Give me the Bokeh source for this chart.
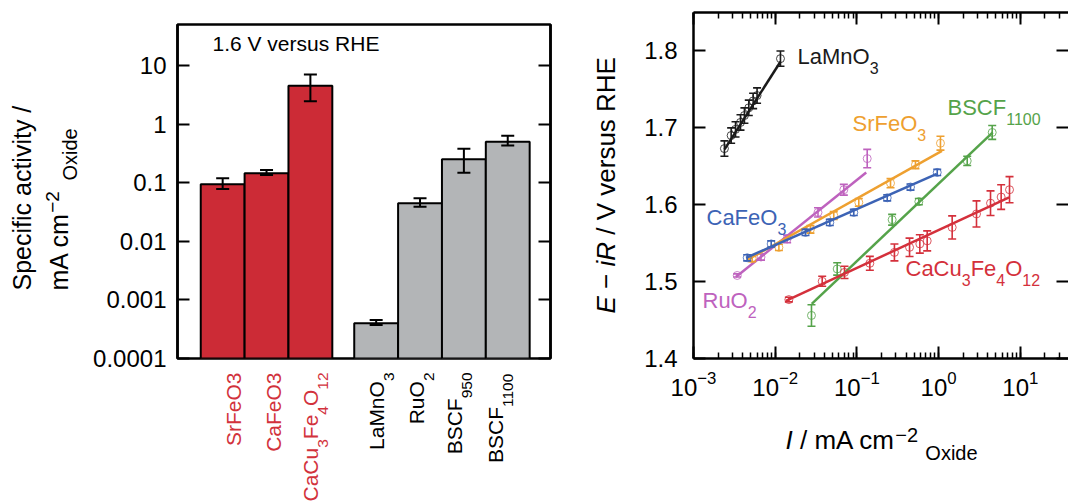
import math
import re
from bokeh.plotting import figure
from bokeh.layouts import row, column
from bokeh.models import (Range1d, FixedTicker, LogAxis, LinearAxis, Label,
                          CustomJSTickFormatter, LogTicker)
from bokeh.embed import file_html
from bokeh.resources import INLINE

# ---------------- data: left panel (specific activity at 1.6 V vs RHE) ----------------
bar_names = ["SrFeO3", "CaFeO3", "CaCu3Fe4O12", "LaMnO3", "RuO2", "BSCF950", "BSCF1100"]
bar_pos = [0, 1, 2, 3.5, 4.5, 5.5, 6.5]
bar_values = [0.094, 0.145, 4.5, 0.00040, 0.0444, 0.251, 0.50]
bar_err_hi = [0.119, 0.165, 7.0, 0.000455, 0.054, 0.38, 0.63]
bar_err_lo = [0.078, 0.135, 2.45, 0.000374, 0.039, 0.148, 0.43]
bar_is_new = [True, True, True, False, False, False, False]
bar_subscripts = [False, False, True, True, True, True, True]
ytick_vals = [0.0001, 0.001, 0.01, 0.1, 1, 10]
ytick_labels = ["0.0001", "0.001", "0.01", "0.1", "1", "10"]

# ---------------- data: right panel (Tafel plots) ----------------
lamno3_x = [0.00239, 0.00289, 0.00327, 0.00376, 0.0042, 0.00475, 0.00537, 0.0060, 0.0116]
lamno3_y = [1.673, 1.690, 1.698, 1.707, 1.716, 1.726, 1.735, 1.742, 1.790]
lamno3_err = [0.010, 0.010, 0.010, 0.010, 0.010, 0.010, 0.010, 0.010, 0.010]
lamno3_fit_x = [0.0024, 0.0116]
lamno3_fit_y = [1.672, 1.786]

cafeo3_x = [0.00454, 0.00893, 0.0235, 0.0466, 0.0916, 0.235, 0.453, 0.962]
cafeo3_y = [1.531, 1.549, 1.564, 1.577, 1.590, 1.609, 1.623, 1.642]
cafeo3_err = [0.004, 0.004, 0.004, 0.004, 0.004, 0.004, 0.004, 0.004]
cafeo3_fit_x = [0.0044, 0.95]
cafeo3_fit_y = [1.531, 1.640]

srfeo3_x = [0.00522, 0.0111, 0.027, 0.0521, 0.1055, 0.258, 0.521, 1.054]
srfeo3_y = [1.530, 1.5445, 1.568, 1.586, 1.603, 1.628, 1.652, 1.680]
srfeo3_err = [0.004, 0.004, 0.005, 0.005, 0.005, 0.006, 0.005, 0.009]
srfeo3_fit_x = [0.0045, 1.1]
srfeo3_fit_y = [1.528, 1.670]

ruo2_x = [0.00343, 0.0067, 0.0140, 0.0334, 0.0692, 0.1337]
ruo2_y = [1.508, 1.532, 1.5555, 1.590, 1.6195, 1.660]
ruo2_err = [0.002, 0.004, 0.005, 0.006, 0.007, 0.012]
ruo2_fit_x = [0.0033, 0.13]
ruo2_fit_y = [1.506, 1.642]

bscf_x = [0.0278, 0.0574, 0.270, 0.573, 2.24, 4.53]
bscf_y = [1.456, 1.5165, 1.5805, 1.604, 1.657, 1.694]
bscf_err = [0.014, 0.008, 0.007, 0.004, 0.006, 0.009]
bscf_fit_x = [0.028, 4.6]
bscf_fit_y = [1.471, 1.694]

ccfo_x = [0.01469, 0.0376, 0.0705, 0.144, 0.288, 0.441, 0.589, 0.725, 1.466, 2.91, 4.32, 5.83, 7.38]
ccfo_y = [1.4766, 1.5004, 1.512, 1.5238, 1.538, 1.5446, 1.549, 1.553, 1.5705, 1.588, 1.602, 1.610, 1.6195]
ccfo_err = [0.003, 0.0065, 0.008, 0.009, 0.011, 0.012, 0.012, 0.013, 0.015, 0.017, 0.016, 0.016, 0.017]
ccfo_fit_x = [0.0135, 7.3]
ccfo_fit_y = [1.475, 1.6095]

yticks_right = [1.4, 1.5, 1.6, 1.7, 1.8]

# ---------------- styling ----------------
FONT = "Liberation Sans"
RED_BAR = "#CC2B36"
GRAY_BAR = "#B3B5B7"
RED_TXT = "#D2323C"
series = [
    ("LaMnO3", lamno3_x, lamno3_y, lamno3_err, lamno3_fit_x, lamno3_fit_y, "#1a1a1a", (797, 66)),
    ("RuO2", ruo2_x, ruo2_y, ruo2_err, ruo2_fit_x, ruo2_fit_y, "#BE62BE", (702, 310)),
    ("SrFeO3", srfeo3_x, srfeo3_y, srfeo3_err, srfeo3_fit_x, srfeo3_fit_y, "#EEA030", (852, 133)),
    ("CaFeO3", cafeo3_x, cafeo3_y, cafeo3_err, cafeo3_fit_x, cafeo3_fit_y, "#3C63B5", (706, 227)),
    ("BSCF1100", bscf_x, bscf_y, bscf_err, bscf_fit_x, bscf_fit_y, "#55A34A", (947, 117)),
    ("CaCu3Fe4O12", ccfo_x, ccfo_y, ccfo_err, ccfo_fit_x, ccfo_fit_y, "#D4303B", (905, 278)),
]
label_dx = [21, 17, 10, 10, 6, 0, -2]   # screen offsets of rotated category labels
BASE_FIX = 0.47                          # anchor-to-baseline correction (em)

# ---------------- layout (page pixel coordinates, origin top-left) ----------------
TOTAL_H = 502
YT1_W = 86
P1_X0, P1_W, P1_H = 86, 474, 372
YT2_X0, YT2_W = 560, 70
P2_X0, P2_W, P2_H = 630, 438, 410
F1L, F1R, F1T, F1B = 177, 550, 24, 358
F2L, F2R, F2T, F2B = 693, P2_X0 + P2_W, 12, 358
X1 = (-1.03, 7.475)
Y1 = (1e-4, 50.0)
X2 = (1e-3, 10 ** (-3 + (F2R - F2L) / 81.7))
Y2 = (1.4, 1.85)


def d1(sx, sy):
    x = X1[0] + (sx - F1L) / (F1R - F1L) * (X1[1] - X1[0])
    ly = math.log10(Y1[1]) - (sy - F1T) / (F1B - F1T) * (math.log10(Y1[1]) - math.log10(Y1[0]))
    return x, 10 ** ly


def d2(sx, sy):
    lx = math.log10(X2[0]) + (sx - F2L) / (F2R - F2L) * (math.log10(X2[1]) - math.log10(X2[0]))
    y = Y2[1] - (sy - F2T) / (F2B - F2T) * (Y2[1] - Y2[0])
    return 10 ** lx, y


def page(sx, sy):
    return sx, sy


CW = {' ': 278, '/': 278, '.': 278, '\u2212': 584, '-': 333, 'A': 667, 'B': 667, 'C': 722,
      'E': 667, 'F': 611, 'H': 722, 'I': 278, 'L': 556, 'M': 833, 'O': 778, 'R': 722,
      'S': 667, 'V': 667, 'a': 556, 'c': 500, 'd': 556, 'e': 556, 'f': 278, 'i': 222,
      'm': 833, 'n': 556, 'o': 556, 'p': 556, 'r': 333, 's': 500, 't': 278, 'u': 556,
      'v': 500, 'x': 500, 'y': 500}


def tw(s, size):
    return sum(CW.get(ch, 556) for ch in s) / 1000.0 * size


def rich(fig, conv, sx, sy, pieces, color, angle=0.0):
    """Draw text pieces one after another along the baseline starting at (sx, sy)."""
    for text, size, shift, style in pieces:
        lead = len(text) - len(text.lstrip(" "))
        core = text.strip(" ")
        adv_lead = tw(" " * lead, size)
        if angle == 0:
            sx += adv_lead
        else:
            sy -= adv_lead
        if core:
            if angle == 0:
                px, py = sx, sy + shift - BASE_FIX * size
            else:
                px, py = sx + shift - BASE_FIX * size, sy
            x, y = conv(px, py)
            fig.add_layout(Label(x=x, y=y, text=core, text_font=FONT,
                                 text_font_size=f"{size}px", text_font_style=style,
                                 text_color=color, text_align="left",
                                 text_baseline="alphabetic", angle=angle))
        rest = tw(text, size) - adv_lead
        if angle == 0:
            sx += rest
        else:
            sy -= rest


def chem(name, size, subsize, drop, subs=True):
    out = []
    for r in re.findall(r"\d+|\D+", name):
        if subs and r.isdigit():
            out.append((r, subsize, drop, "normal"))
        else:
            out.append((r, size, 0, "normal"))
    return out


def textfig(x0, y0, w, h, bl=0, br=0):
    """A blank figure whose frame maps directly onto page pixel coordinates."""
    f = figure(width=w, height=h, x_range=Range1d(x0 + bl, x0 + w - br), y_range=Range1d(y0 + h, y0),
               output_backend="svg", toolbar_location=None,
               x_axis_location=None, y_axis_location=None,
               min_border_left=bl, min_border_right=br, min_border_top=0, min_border_bottom=0)
    f.outline_line_color = None
    f.grid.visible = False
    return f


# ---------------- left panel ----------------
p1 = figure(width=P1_W, height=P1_H, y_axis_type="log", x_range=Range1d(*X1), y_range=Range1d(*Y1),
            output_backend="svg", toolbar_location=None,
            min_border_left=F1L - P1_X0, min_border_right=P1_X0 + P1_W - F1R,
            min_border_top=F1T, min_border_bottom=P1_H - F1B)
p1.grid.visible = False
p1.xaxis.visible = False
p1.outline_line_color = "black"
p1.outline_line_width = 2.5
p1.outline_line_alpha = 1.0

fmt = CustomJSTickFormatter(args=dict(vals=ytick_vals, labs=ytick_labels), code="""
const i = vals.findIndex(v => Math.abs(Math.log10(v) - Math.log10(tick)) < 1e-6);
return i >= 0 ? labs[i] : '';
""")
ya = p1.yaxis[0]
ya.ticker = FixedTicker(ticks=ytick_vals)
ya.formatter = fmt
ya.major_tick_in = 12
ya.major_tick_out = 0
ya.minor_tick_in = 0
ya.minor_tick_out = 0
ya.major_tick_line_width = 2
ya.axis_line_width = 2.5
ya.major_label_standoff = 11
ya.major_label_text_font = FONT
ya.major_label_text_font_size = "24px"
ya.major_label_text_color = "black"
r1 = LogAxis(ticker=FixedTicker(ticks=ytick_vals), formatter=CustomJSTickFormatter(code="return ''"),
             major_tick_in=12, major_tick_out=0, minor_tick_in=0, minor_tick_out=0,
             major_tick_line_width=2, axis_line_width=2.5, major_label_standoff=0,
             major_label_text_font_size="0px")
p1.add_layout(r1, "right")

bar_colors = [RED_BAR if n else GRAY_BAR for n in bar_is_new]
p1.vbar(x=bar_pos, top=bar_values, bottom=Y1[0], width=1.0, fill_color=bar_colors,
        line_color="black", line_width=2)
p1.segment(x0=bar_pos, y0=bar_err_lo, x1=bar_pos, y1=bar_err_hi, line_color="black", line_width=2)
p1.scatter(x=bar_pos, y=bar_err_hi, marker="dash", size=13, line_color="black", line_width=2)
p1.scatter(x=bar_pos, y=bar_err_lo, marker="dash", size=13, line_color="black", line_width=2)

rich(p1, d1, 212, 53, [("1.6 V versus RHE", 21, 0, "normal")], "black")

# category labels (rotated) in a strip below the left panel
xl1 = textfig(P1_X0, P1_H, P1_W, TOTAL_H - P1_H, bl=F1L - P1_X0, br=P1_X0 + P1_W - F1R)
unit = (F1R - F1L) / (X1[1] - X1[0])
for name, pos, subs, new, dx in zip(bar_names, bar_pos, bar_subscripts, bar_is_new, label_dx):
    pieces = chem(name, 21, 15.5, 10, subs)
    total = sum(tw(t, s) for t, s, _, _ in pieces)
    cx = F1L + (pos - X1[0]) * unit + dx
    rich(xl1, page, cx, P1_H + total, pieces, RED_TXT if new else "black", angle=math.pi / 2)

# y axis title (two lines) in a strip left of the left panel
yt1 = textfig(0, 0, YT1_W, TOTAL_H)
rich(yt1, page, 33, 290, [("Specific activity /", 25, 0, "normal")], "black", angle=math.pi / 2)
rich(yt1, page, 70, 290, [("mA cm", 25, 0, "normal"), ("\u22122", 19, -9, "normal"),
                          ("  ", 19, 0, "normal"), ("Oxide", 20, 9, "normal")],
     "black", angle=math.pi / 2)

# ---------------- right panel ----------------
p2 = figure(width=P2_W, height=P2_H, x_axis_type="log", x_range=Range1d(*X2), y_range=Range1d(*Y2),
            output_backend="svg", toolbar_location=None,
            min_border_left=F2L - P2_X0, min_border_right=0, min_border_top=F2T,
            min_border_bottom=P2_H - F2B)
p2.grid.visible = False
p2.outline_line_color = None

xa = p2.xaxis[0]
xa.ticker = LogTicker(mantissas=[1], num_minor_ticks=10, desired_num_ticks=6)
ya2 = p2.yaxis[0]
ya2.ticker = FixedTicker(ticks=yticks_right)
for ax in [xa, ya2]:
    ax.major_tick_in = 12
    ax.major_tick_out = 0
    ax.minor_tick_in = 6
    ax.minor_tick_out = 0
    ax.major_tick_line_width = 2
    ax.minor_tick_line_width = 1.5
    ax.axis_line_width = 2.5
    ax.major_label_text_font = FONT
    ax.major_label_text_font_size = "24px"
    ax.major_label_text_color = "black"
xa.major_label_standoff = 12
ya2.major_label_standoff = 16

top2 = LogAxis(ticker=LogTicker(mantissas=[1], num_minor_ticks=10, desired_num_ticks=6),
               formatter=CustomJSTickFormatter(code="return ''"),
               major_tick_in=12, major_tick_out=0, minor_tick_in=6, minor_tick_out=0,
               major_tick_line_width=2, minor_tick_line_width=1.5, axis_line_width=2.5,
               major_label_standoff=0, major_label_text_font_size="0px")
p2.add_layout(top2, "above")
right2 = LinearAxis(ticker=FixedTicker(ticks=yticks_right), formatter=CustomJSTickFormatter(code="return ''"),
                    major_tick_in=12, major_tick_out=0, minor_tick_in=0, minor_tick_out=0,
                    major_tick_line_width=2, axis_line_color=None, major_label_standoff=0,
                    major_label_text_font_size="0px")
p2.add_layout(right2, "right")

for name, xs, ys, es, fx, fy, col, (lx, ly) in series:
    lo = [y - e for y, e in zip(ys, es)]
    hi = [y + e for y, e in zip(ys, es)]
    p2.segment(x0=xs, y0=lo, x1=xs, y1=hi, line_color=col, line_width=1.6)
    p2.scatter(x=xs, y=hi, marker="dash", size=8, line_color=col, line_width=1.6)
    p2.scatter(x=xs, y=lo, marker="dash", size=8, line_color=col, line_width=1.6)
    p2.scatter(x=xs, y=ys, marker="circle", size=8, fill_color=None, line_color=col,
               line_width=1, line_alpha=0.8)
    p2.line(x=fx, y=fy, line_color=col, line_width=2.5)
    rich(p2, d2, lx, ly, chem(name, 22, 16, 9), col)

# axis titles of the right panel
yt2 = textfig(YT2_X0, 0, YT2_W, TOTAL_H)
rich(yt2, page, 618, 313,
     [("E", 26, 0, "italic"), (" \u2212 ", 26, 0, "normal"), ("iR", 26, 0, "italic"),
      (" / V versus RHE", 26, 0, "normal")], "black", angle=math.pi / 2)
xl2 = textfig(P2_X0, P2_H, P2_W, TOTAL_H - P2_H, bl=F2L - P2_X0, br=0)
rich(xl2, page, 785, 452,
     [("I", 26, 0, "italic"), (" / mA cm", 26, 0, "normal"), ("\u22122", 20, -8, "normal"),
      (" ", 26, 0, "normal"), ("Oxide", 20, 10, "normal")], "black")

layout = row(yt1, column(p1, xl1), yt2, column(p2, xl2))
open("out.html", "w").write(file_html(layout, INLINE))
